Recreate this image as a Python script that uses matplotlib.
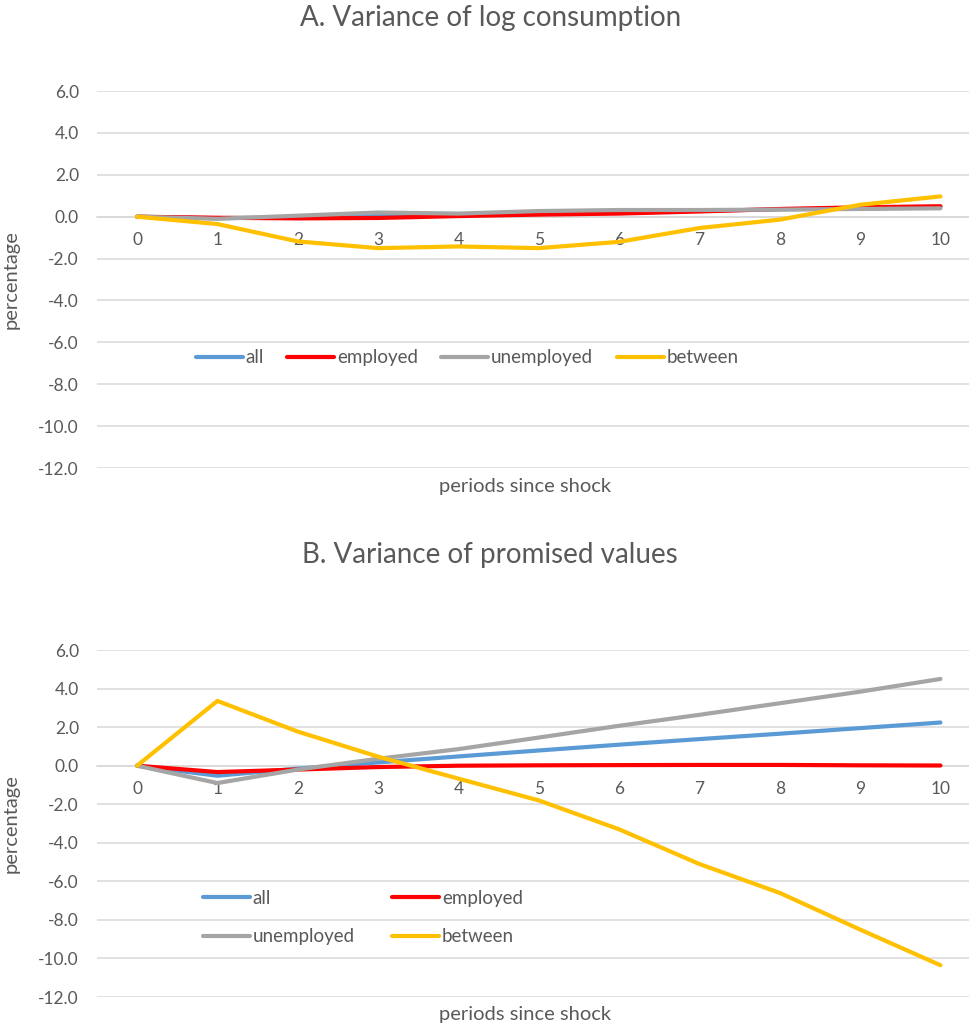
import matplotlib
matplotlib.use("Agg")
import matplotlib.pyplot as plt

plt.rcParams['font.family'] = ['Lato', 'DejaVu Sans']

periods = [0, 1, 2, 3, 4, 5, 6, 7, 8, 9, 10]
series_names = ['all', 'employed', 'unemployed', 'between']
series_colors = ['#5B9BD5', '#FF0000', '#A5A5A5', '#FFC000']

# Panel A: variance of log consumption
a_all = [0, -0.07, -0.03, 0.05, 0.08, 0.18, 0.23, 0.28, 0.35, 0.4, 0.45]
a_employed = [0, -0.05, -0.08, -0.06, 0.03, 0.1, 0.15, 0.25, 0.37, 0.45, 0.5]
a_unemployed = [0, -0.1, 0.05, 0.2, 0.15, 0.27, 0.32, 0.32, 0.34, 0.37, 0.4]
a_between = [0, -0.35, -1.18, -1.5, -1.42, -1.5, -1.2, -0.54, -0.14, 0.57, 0.97]

# Panel B: variance of promised values
b_all = [0, -0.52, -0.15, 0.17, 0.48, 0.79, 1.09, 1.38, 1.66, 1.95, 2.24]
b_employed = [0, -0.33, -0.2, -0.07, 0.0, 0.02, 0.03, 0.04, 0.04, 0.02, 0.01]
b_unemployed = [0, -0.9, -0.2, 0.36, 0.86, 1.46, 2.07, 2.64, 3.24, 3.84, 4.5]
b_between = [0, 3.36, 1.77, 0.47, -0.67, -1.8, -3.3, -5.1, -6.6, -8.5, -10.35]

y_ticks = [6, 4, 2, 0, -2, -4, -6, -8, -10, -12]

text_color = '#595959'
grid_color = '#D9D9D9'

fig = plt.figure(figsize=(9.69, 10.30), dpi=100)
# plot area runs past the right edge of the picture, as in the reference
ax_a = fig.add_axes([0.100, 0.5456, 0.912, 0.3660])
ax_b = fig.add_axes([0.100, 0.0320, 0.912, 0.3369])


def style_axis(ax):
    ax.set_xlim(-0.5, 10.5)
    ax.set_ylim(-12, 6)
    ax.set_yticks(y_ticks)
    ax.set_yticklabels([f"{v:.1f}" for v in y_ticks])
    ax.set_xticks(periods)
    ax.set_xticklabels([str(p) for p in periods])
    ax.grid(axis='y', color=grid_color, linewidth=1.1, zorder=0)
    for s in ['top', 'right', 'left']:
        ax.spines[s].set_visible(False)
    ax.spines['bottom'].set_position(('data', 0))
    ax.spines['bottom'].set_color(grid_color)
    ax.spines['bottom'].set_linewidth(1.1)
    ax.tick_params(axis='both', length=0, labelsize=12.5, colors=text_color)
    ax.tick_params(axis='y', pad=13)
    ax.tick_params(axis='x', pad=11)
    ax.set_ylabel('percentage', fontsize=14.5, color=text_color)
    ax.yaxis.set_label_coords(-0.088, 0.5)
    ax.text(0.484, -0.05, 'periods since shock', transform=ax.transAxes,
            ha='center', va='center', fontsize=14.5, color=text_color)


def add_legend(ax, handles, labels, anchor, ncol, colspace):
    leg = ax.legend(handles, labels, loc='center', bbox_to_anchor=anchor, ncol=ncol,
                    frameon=False, fontsize=13.5, handlelength=2.5, handletextpad=0.15,
                    columnspacing=colspace, labelspacing=1.15)
    for t in leg.get_texts():
        t.set_color(text_color)


style_axis(ax_a)
lines_a = []
for name, vals, col in zip(series_names, [a_all, a_employed, a_unemployed, a_between], series_colors):
    ln, = ax_a.plot(periods, vals, color=col, linewidth=3, label=name,
                    solid_capstyle='round', zorder=3)
    lines_a.append(ln)
add_legend(ax_a, lines_a, series_names, (0.419, 0.292), 4, 1.25)

style_axis(ax_b)
lines_b = []
for name, vals, col in zip(series_names, [b_all, b_employed, b_unemployed, b_between], series_colors):
    ln, = ax_b.plot(periods, vals, color=col, linewidth=3, label=name,
                    solid_capstyle='round', zorder=3)
    lines_b.append(ln)
# Excel fills the legend row by row
order = [0, 2, 1, 3]
add_legend(ax_b, [lines_b[i] for i in order], [series_names[i] for i in order],
           (0.301, 0.229), 2, 2.0)

fig.text(0.506, 1 - 18 / 1030, 'A. Variance of log consumption', ha='center', va='center',
         fontsize=20, color=text_color)
fig.text(0.506, 1 - 555 / 1030, 'B. Variance of promised values', ha='center', va='center',
         fontsize=20, color=text_color)

fig.savefig('out.png', dpi=100)
